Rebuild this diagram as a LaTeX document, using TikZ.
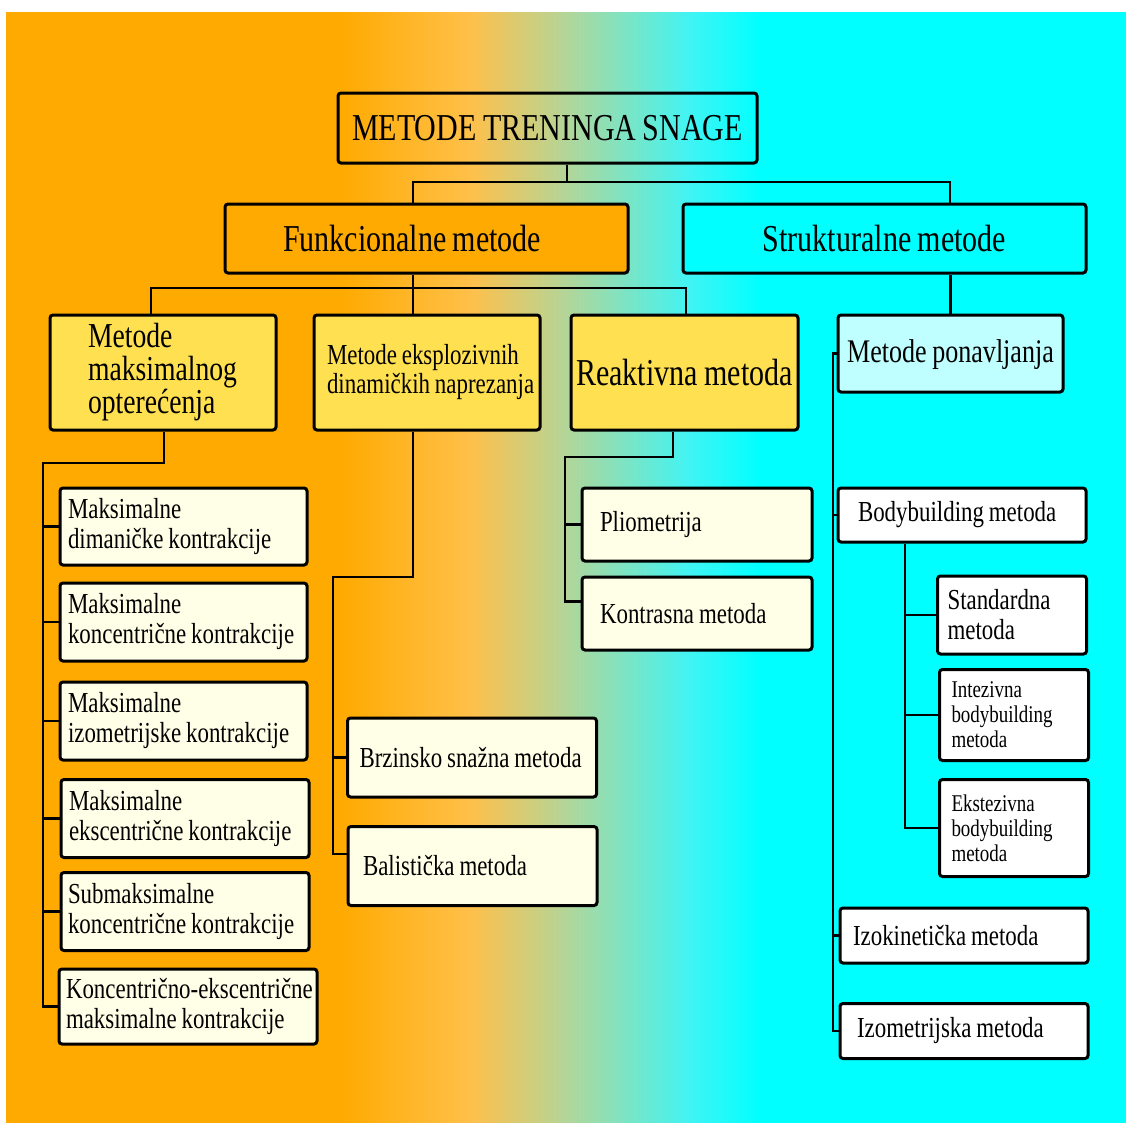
\documentclass[tikz,border=0pt]{standalone}
\usepackage{fontspec}
\setmainfont{Liberation Serif}[FakeStretch=0.79, WordSpace=0.85]
\definecolor{orng}{HTML}{FFAA00}
\definecolor{orlt}{HTML}{FFC04A}
\definecolor{grn}{HTML}{B8D494}
\definecolor{cylt}{HTML}{40F4F4}
\definecolor{cyn}{HTML}{00FFFF}
\definecolor{yel}{HTML}{FFE050}
\definecolor{crm}{HTML}{FFFFE8}
\definecolor{lcy}{HTML}{C0FFFF}
\tikzset{
  bx/.style={draw=black, line width=3pt, rounded corners=3pt, inner ysep=0pt, align=left,
    font=\fontsize{29pt}{30pt}\selectfont, execute at begin node={\spaceskip=0pt\xspaceskip=0pt\relax}},
  bigf/.style={font=\fontsize{38pt}{30pt}\selectfont},
  midf/.style={font=\fontsize{33pt}{30pt}\selectfont},
  smlf/.style={font=\fontsize{24pt}{25pt}\selectfont},
  conn/.style={line width=2.2pt, line join=miter}
}
\begin{document}
\begin{tikzpicture}[x=1pt,y=-1pt]
\useasboundingbox (0,0) rectangle (1126,1122);
\fill[white] (0,0) rectangle (1126,1122);
% background gradient
\fill[orng] (6,12) rectangle (340.5,1126);
\shade[left color=orng, right color=orlt] (340,12) rectangle (470.5,1126);
\shade[left color=orlt, right color=grn] (470,12) rectangle (560.5,1126);
\shade[left color=grn, right color=cylt] (560,12) rectangle (690.5,1126);
\shade[left color=cylt, right color=cyn] (690,12) rectangle (760.5,1126);
\fill[cyn] (760,12) rectangle (1130,1126);

% level 1-2
\node[bx, bigf, align=center, minimum width=419pt, minimum height=70pt] (top) at (547.5,128) {METODE TRENINGA SNAGE};
\node[bx, bigf, fill=orng, minimum width=403pt, minimum height=69pt, inner xsep=58pt, text width=287pt] (funk) at (426.5,238.5) {Funkcionalne metode};
\node[bx, bigf, fill=cyn, align=center, minimum width=403pt, minimum height=69pt] (strukt) at (884.5,238.5) {Strukturalne metode};

% level 3
\node[bx, fill=yel, minimum width=226pt, minimum height=115pt, inner xsep=38pt, text width=150pt, font=\fontsize{35pt}{33pt}\selectfont] (maks) at (163,372.5) {Metode\\maksimalnog\\optere\'{c}enja};
\node[bx, fill=yel, minimum width=226pt, minimum height=115pt, inner xsep=13pt, text width=200pt, font=\fontsize{29pt}{29pt}\selectfont] (ekspl) at (427,372.5) {\mbox{Metode eksplozivnih}\\\mbox{dinamičkih naprezanja}};
\node[bx, bigf, fill=yel, align=center, minimum width=227pt, minimum height=115pt] (reakt) at (684.5,372.5) {Reaktivna metoda};
\node[bx, midf, fill=lcy, align=center, minimum width=225pt, minimum height=77pt, text depth=4pt] (ponav) at (950.5,353.5) {Metode ponavljanja};

% left column
\node[bx, fill=crm, minimum width=247pt, minimum height=77pt, inner xsep=8pt, text width=231pt] (L1) at (183.5,526.5) {Maksimalne\\\mbox{dimaničke kontrakcije}};
\node[bx, fill=crm, minimum width=247pt, minimum height=78pt, inner xsep=8pt, text width=231pt] (L2) at (183.5,622) {Maksimalne\\\mbox{koncentrične kontrakcije}};
\node[bx, fill=crm, minimum width=247pt, minimum height=78pt, inner xsep=8pt, text width=231pt] (L3) at (183.5,721) {Maksimalne\\\mbox{izometrijske kontrakcije}};
\node[bx, fill=crm, minimum width=248pt, minimum height=78pt, inner xsep=8pt, text width=232pt] (L4) at (185,818.5) {Maksimalne\\\mbox{ekscentrične kontrakcije}};
\node[bx, fill=crm, minimum width=248pt, minimum height=78pt, inner xsep=7pt, text width=234pt] (L5) at (185,911.5) {Submaksimalne\\\mbox{koncentrične kontrakcije}};
\node[bx, fill=crm, minimum width=258pt, minimum height=75pt, inner xsep=7pt, text width=244pt] (L6) at (188,1006.5) {\mbox{Koncentrično-ekscentrične}\\\mbox{maksimalne kontrakcije}};

% explosive children
\node[bx, fill=crm, minimum width=249pt, minimum height=79pt, inner xsep=12pt, text width=225pt] (brz) at (472,757.5) {\mbox{Brzinsko snažna metoda}};
\node[bx, fill=crm, minimum width=249pt, minimum height=79pt, inner xsep=15pt, text width=219pt] (bal) at (472.5,866) {\mbox{Balistička metoda}};

% reactive children
\node[bx, fill=crm, minimum width=230pt, minimum height=73pt, inner xsep=18pt, text width=194pt] (plio) at (697,524.5) {Pliometrija};
\node[bx, fill=crm, minimum width=230pt, minimum height=73pt, inner xsep=18pt, text width=194pt] (kontr) at (697,613.5) {\mbox{Kontrasna metoda}};

% structural children
\node[bx, fill=white, minimum width=248pt, minimum height=54pt, inner xsep=20pt, text width=208pt] (body) at (962,515) {\mbox{Bodybuilding metoda}};
\node[bx, fill=white, minimum width=149pt, minimum height=78pt, inner xsep=10pt, text width=129pt] (stand) at (1012,615) {Standardna\\metoda};
\node[bx, smlf, fill=white, minimum width=149pt, minimum height=91pt, inner xsep=12pt, text width=125pt] (intez) at (1014,715) {Intezivna\\bodybuilding\\metoda};
\node[bx, smlf, fill=white, minimum width=149pt, minimum height=97pt, inner xsep=12pt, text width=125pt] (ekst) at (1014,828) {Ekstezivna\\bodybuilding\\metoda};
\node[bx, fill=white, minimum width=248pt, minimum height=55pt, inner xsep=13pt, text width=222pt] (izok) at (964,935.5) {\mbox{Izokinetička metoda}};
\node[bx, fill=white, minimum width=248pt, minimum height=55pt, inner xsep=17pt, text width=214pt] (izom) at (964,1031) {\mbox{Izometrijska metoda}};

% junction coordinates
\coordinate (b0) at (567,182);
\coordinate (b0l) at (413,182);
\coordinate (b0r) at (950,182);
\coordinate (b1) at (413,288);
\coordinate (b1l) at (151,288);
\coordinate (b1r) at (686,288);
\coordinate (t1) at (164,463);
\coordinate (t1b) at (43,463);
\coordinate (t2) at (413,577);
\coordinate (t2b) at (333,577);
\coordinate (t3) at (673,457);
\coordinate (t3b) at (565,457);
\coordinate (t4) at (833,355);
\coordinate (t5) at (905,542);
\coordinate (balj) at ([yshift=12pt]bal.west);
\coordinate (kontj) at ([yshift=12pt]kontr.west);

% connectors
\draw[conn] (b0 |- top.south) -- (b0);
\draw[conn] (b0l |- funk.north) -- (b0l) -- (b0r) -- (b0r |- strukt.north);
\draw[conn] (b1 |- funk.south) -- (b1) -- (b1 |- ekspl.north);
\draw[conn] (b1l |- maks.north) -- (b1l) -- (b1r) -- (b1r |- reakt.north);
\draw[conn] (ponav.north |- strukt.south) -- (ponav.north);

\draw[conn] (t1 |- maks.south) -- (t1) -- (t1b) -- (t1b |- L6.west) -- (L6.west);
\draw[conn] (t1b |- L1.west) -- (L1.west);
\draw[conn] (t1b |- L2.west) -- (L2.west);
\draw[conn] (t1b |- L3.west) -- (L3.west);
\draw[conn] (t1b |- L4.west) -- (L4.west);
\draw[conn] (t1b |- L5.west) -- (L5.west);

\draw[conn] (t2 |- ekspl.south) -- (t2) -- (t2b) -- (t2b |- balj) -- (balj);
\draw[conn] (t2b |- brz.west) -- (brz.west);

\draw[conn] (t3 |- reakt.south) -- (t3) -- (t3b) -- (t3b |- kontj) -- (kontj);
\draw[conn] (t3b |- plio.west) -- (plio.west);

\draw[conn] (ponav.west) -- (ponav.west -| t4) -- (t4 |- izom.west) -- (izom.west);
\draw[conn] (t4 |- body.west) -- (body.west);
\draw[conn] (t4 |- izok.west) -- (izok.west);

\draw[conn] (t5 |- body.south) -- (t5 |- ekst.west) -- (ekst.west);
\draw[conn] (t5 |- stand.west) -- (stand.west);
\draw[conn] (t5 |- intez.west) -- (intez.west);
\end{tikzpicture}
\end{document}
